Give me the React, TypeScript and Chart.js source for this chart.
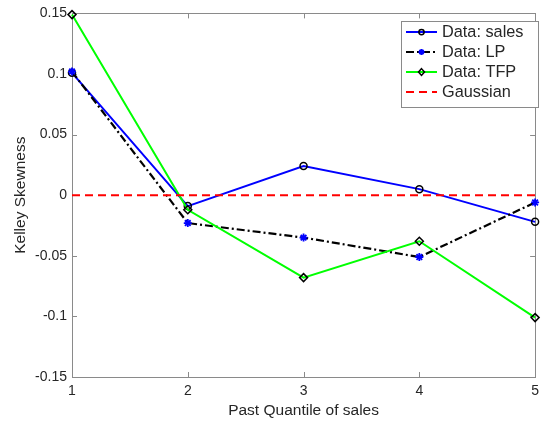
import React, { useEffect, useRef } from 'react';
import { Chart, registerables } from 'chart.js';

Chart.register(...registerables);

const quantiles = [1, 2, 3, 4, 5];
const salesSkew = [0.101, -0.009, 0.024, 0.005, -0.022];
const lpSkew = [0.102, -0.023, -0.035, -0.051, -0.006];
const tfpSkew = [0.149, -0.012, -0.068, -0.038, -0.101];
const gaussianSkew = [0, 0, 0, 0, 0];

const xTicks = [1, 2, 3, 4, 5];
const yTicks = [-0.15, -0.1, -0.05, 0, 0.05, 0.1, 0.15];
const legendLabels = ['Data: sales', 'Data: LP', 'Data: TFP', 'Gaussian'];
const xTitle = 'Past Quantile of sales';
const yTitle = 'Kelley Skewness';

const FONT = '"Liberation Sans", Arial, Helvetica, sans-serif';
const TEXT = '#262626';
const AXIS = '#8a8a8a';

type Marker = 'circle' | 'star' | 'diamond' | 'none';

function drawMarker(ctx: CanvasRenderingContext2D, kind: Marker, x: number, y: number, s: number) {
  ctx.save();
  ctx.setLineDash([]);
  if (kind === 'circle') {
    ctx.strokeStyle = '#000';
    ctx.lineWidth = 1.5;
    ctx.beginPath();
    ctx.arc(x, y, 3.5 * s, 0, Math.PI * 2);
    ctx.stroke();
  } else if (kind === 'diamond') {
    ctx.strokeStyle = '#000';
    ctx.lineWidth = 1.5;
    ctx.beginPath();
    ctx.moveTo(x, y - 4.5 * s);
    ctx.lineTo(x + 4 * s, y);
    ctx.lineTo(x, y + 4.5 * s);
    ctx.lineTo(x - 4 * s, y);
    ctx.closePath();
    ctx.stroke();
  } else if (kind === 'star') {
    ctx.strokeStyle = '#0000ff';
    ctx.lineWidth = 1.8;
    const r = 4 * s;
    ctx.beginPath();
    for (let i = 0; i < 4; i++) {
      const a = (i * Math.PI) / 4;
      ctx.moveTo(x - r * Math.cos(a), y - r * Math.sin(a));
      ctx.lineTo(x + r * Math.cos(a), y + r * Math.sin(a));
    }
    ctx.stroke();
  }
  ctx.restore();
}

const legendStyles: { color: string; dash: number[]; marker: Marker }[] = [
  { color: '#0000ff', dash: [], marker: 'circle' },
  { color: '#000000', dash: [8, 3, 2, 3], marker: 'star' },
  { color: '#00ff00', dash: [], marker: 'diamond' },
  { color: '#ff0000', dash: [8, 5], marker: 'none' },
];

const framePlugin = {
  id: 'matlabFrame',
  beforeDatasetsDraw(chart: any) {
    const { ctx, chartArea } = chart;
    const { left, right, top, bottom } = chartArea;
    const xs = chart.scales.x;
    const ys = chart.scales.y;
    ctx.save();
    ctx.strokeStyle = AXIS;
    ctx.lineWidth = 1;
    ctx.strokeRect(Math.round(left) + 0.5, Math.round(top) + 0.5, Math.round(right - left), Math.round(bottom - top));
    ctx.beginPath();
    const tl = 5;
    xTicks.forEach((v) => {
      const px = Math.round(xs.getPixelForValue(v)) + 0.5;
      ctx.moveTo(px, bottom);
      ctx.lineTo(px, bottom - tl);
      ctx.moveTo(px, top);
      ctx.lineTo(px, top + tl);
    });
    yTicks.forEach((v) => {
      const py = Math.round(ys.getPixelForValue(v)) + 0.5;
      ctx.moveTo(left, py);
      ctx.lineTo(left + tl, py);
      ctx.moveTo(right, py);
      ctx.lineTo(right - tl, py);
    });
    ctx.stroke();

    // axis titles
    ctx.fillStyle = TEXT;
    ctx.font = `15.5px ${FONT}`;
    ctx.textAlign = 'center';
    ctx.textBaseline = 'alphabetic';
    ctx.fillText(xTitle, (left + right) / 2, 415);
    ctx.translate(25, (top + bottom) / 2);
    ctx.rotate(-Math.PI / 2);
    ctx.fillText(yTitle, 0, 0);
    ctx.restore();
  },
  afterDraw(chart: any) {
    const { ctx } = chart;
    const bx = 401, by = 21, bw = 137, bh = 86;
    ctx.save();
    ctx.fillStyle = '#ffffff';
    ctx.fillRect(bx, by, bw, bh);
    ctx.strokeStyle = AXIS;
    ctx.lineWidth = 1;
    ctx.strokeRect(bx + 0.5, by + 0.5, bw, bh);
    ctx.font = `16.3px ${FONT}`;
    ctx.textAlign = 'left';
    ctx.textBaseline = 'middle';
    legendLabels.forEach((label, i) => {
      const y = 32 + i * 20;
      const st = legendStyles[i];
      ctx.save();
      ctx.strokeStyle = st.color;
      ctx.lineWidth = 2;
      ctx.setLineDash(st.dash);
      ctx.beginPath();
      ctx.moveTo(406, y);
      ctx.lineTo(437, y);
      ctx.stroke();
      ctx.restore();
      drawMarker(ctx, st.marker, 421.5, y, 0.75);
      ctx.fillStyle = TEXT;
      ctx.fillText(label, 442, y + 1);
    });
    ctx.restore();
  },
};

function toPoints(vals: number[]) {
  return quantiles.map((q, i) => ({ x: q, y: vals[i] }));
}

export default function App() {
  const ref = useRef<HTMLCanvasElement | null>(null);
  useEffect(() => {
    if (!ref.current) return;
    const chart = new Chart(ref.current, {
      type: 'line',
      data: {
        datasets: [
          {
            label: legendLabels[0],
            data: toPoints(salesSkew),
            borderColor: '#0000ff',
            borderWidth: 2,
            pointStyle: 'circle',
            pointRadius: 3.5,
            pointBorderColor: '#000000',
            pointBackgroundColor: 'rgba(0,0,0,0)',
            pointBorderWidth: 1.5,
            clip: false,
            order: 4,
          },
          {
            label: legendLabels[1],
            data: toPoints(lpSkew),
            borderColor: '#000000',
            borderWidth: 2.2,
            borderDash: [8, 3, 2, 3],
            pointStyle: 'star',
            pointRadius: 4,
            pointBorderColor: '#0000ff',
            pointBackgroundColor: '#0000ff',
            pointBorderWidth: 1.8,
            clip: false,
            order: 3,
          },
          {
            label: legendLabels[2],
            data: toPoints(tfpSkew),
            borderColor: '#00ff00',
            borderWidth: 2,
            pointStyle: 'rectRot',
            pointRadius: 4,
            pointBorderColor: '#000000',
            pointBackgroundColor: 'rgba(0,0,0,0)',
            pointBorderWidth: 1.5,
            clip: false,
            order: 2,
          },
          {
            label: legendLabels[3],
            data: toPoints(gaussianSkew),
            borderColor: '#ff0000',
            borderWidth: 2,
            borderDash: [8, 5],
            pointRadius: 0,
            clip: false,
            order: 1,
          },
        ],
      },
      options: {
        animation: false,
        responsive: false,
        maintainAspectRatio: false,
        devicePixelRatio: 1,
        layout: { padding: { left: 0, top: 11, right: 5, bottom: 0 } },
        plugins: { legend: { display: false }, tooltip: { enabled: false } },
        elements: { line: { tension: 0 } },
        scales: {
          x: {
            type: 'linear',
            min: 1,
            max: 5,
            afterFit: (s: any) => { s.height = 48; },
            afterBuildTicks: (s: any) => { s.ticks = xTicks.map((v) => ({ value: v })); },
            grid: { display: false, drawTicks: false },
            border: { display: false },
            ticks: {
              padding: 6,
              color: TEXT,
              font: { family: FONT, size: 14 },
              maxRotation: 0,
              callback: (v: any) => String(v),
            },
          },
          y: {
            type: 'linear',
            min: -0.15,
            max: 0.15,
            afterFit: (s: any) => { s.width = 72; },
            afterBuildTicks: (s: any) => { s.ticks = yTicks.map((v) => ({ value: v })); },
            grid: { display: false, drawTicks: false },
            border: { display: false },
            ticks: {
              padding: 5,
              color: TEXT,
              font: { family: FONT, size: 14 },
              callback: (v: any) => {
                const r = Math.round(Number(v) * 100) / 100;
                return r === 0 ? '0' : String(r);
              },
            },
          },
        },
      },
      plugins: [framePlugin],
    });
    return () => chart.destroy();
  }, []);
  return (
    <div style={{ position: 'absolute', left: 0, top: 0, width: 545, height: 425, background: '#fff' }}>
      <canvas ref={ref} width={545} height={425} style={{ width: 545, height: 425 }} />
    </div>
  );
}
